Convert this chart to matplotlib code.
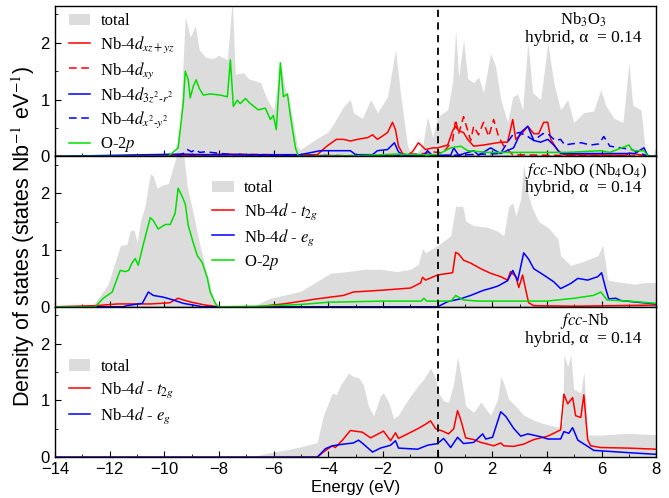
import numpy as np
import matplotlib
matplotlib.use('Agg')
import matplotlib.pyplot as plt
from matplotlib.ticker import MultipleLocator

plt.rcParams['font.family'] = ['Liberation Sans', 'DejaVu Sans']
plt.rcParams['mathtext.fontset'] = 'stix'
plt.rcParams['font.size'] = 12

# ---- Nb3O3 (top panel) ----
top_tot_e = [-14, -9.89, -9.6, -9.41, -9.23, -9.05, -8.86, -8.72, -8.5, -8.24, -8.0, -7.69, -7.51, -7.4,
             -7.1, -6.92, -6.48, -6.23, -6.0, -5.75, -5.57, -5.31, -5.13, -5.02, -4.65, -4.29, -4.03,
             -3.81, -3.44, -3.19, -3.08, -2.75, -2.45, -2.2, -1.83, -1.54, -1.36, -1.1, -0.88, -0.55,
             -0.37, -0.18, 0, 0.37, 0.55, 0.66, 0.77, 0.95, 1.1, 1.32, 1.5, 1.68, 1.94, 2.12, 2.31, 2.56,
             2.75, 2.93, 3.11, 3.3, 3.48, 3.77, 4.03, 4.25, 4.5, 4.76, 4.98, 5.35, 5.71, 5.97, 6.15,
             6.45, 6.78, 7.0, 7.14, 7.44, 7.62, 7.88, 8.0]
top_tot_v = [0, 0, 0.05, 0.6, 2.46, 2.1, 2.3, 1.88, 1.75, 1.72, 1.78, 1.7, 2.75, 1.45,
             1.47, 1.37, 1.3, 1.0, 0.82, 1.65, 1.2, 0.7, 0.18, 0.12, 0.24, 0.35, 0.42,
             0.57, 0.88, 1.0, 0.77, 0.67, 1.0, 0.77, 1.05, 1.88, 1.12, 0.18, 0.0, 0.18,
             0.7, 0.33, 0.7, 0.82, 1.3, 2.23, 1.4, 2.05, 1.37, 1.3, 1.4, 1.12, 1.82, 1.58, 1.0, 0.6,
             1.05, 1.1, 0.82, 2.0, 1.12, 1.0, 2.0, 1.3, 0.82, 1.0, 0.6, 0.77, 0.8, 1.17, 0.9,
             0.67, 0.6, 1.65, 0.9, 0.82, 0.03, 0.0, 0.2]

top_o2p_e = [-14, -9.85, -9.49, -9.3, -9.23, -9.12, -9.05, -8.94, -8.83, -8.72, -8.57, -8.32, -7.95,
             -7.69, -7.58, -7.47, -7.33, -7.22, -7.03, -6.85, -6.56, -6.3, -6.12, -6.01, -5.9, -5.75,
             -5.64, -5.49, -5.38, -5.2, -5.09, -3.0, -1.5, -0.5, 0, 0.48, 0.85, 1.1, 1.83, 3.5, 4.76,
             5.97, 6.3, 7.0, 7.14, 7.55, 7.7, 8.0]
top_o2p_v = [0, 0, 0.15, 0.95, 1.5, 1.35, 1.03, 1.23, 1.35, 1.2, 1.08, 1.1, 1.08,
             1.05, 1.7, 0.88, 0.99, 0.93, 1.02, 0.93, 0.82, 0.85, 0.65, 0.72, 0.47, 1.65,
             1.05, 1.1, 0.7, 0.15, 0, 0.01, 0.04, 0.03, 0.03, 0.15, 0.18, 0.1, 0.07, 0.07, 0.07,
             0.1, 0.07, 0.2, 0.1, 0.1, 0.0, 0.0]

top_xzyz_e = [-14, -9.5, -8.0, -6.0, -4.4, -4.05, -3.7, -3.44, -3.19, -2.93, -2.56, -2.38, -2.2,
              -2.01, -1.83, -1.65, -1.54, -1.43, -1.28, -1.1, -0.92, -0.7, -0.44, -0.18, 0, 0.37,
              0.55, 0.66, 0.77, 0.95, 1.1, 1.32, 1.68, 2.31, 2.56, 2.75, 2.86, 3.04, 3.3, 3.52,
              3.7, 3.88, 4.03, 4.14, 4.4, 4.62, 6.9, 7.0, 7.5, 8.0]
top_xzyz_v = [0, 0.02, 0.03, 0.02, 0.03, 0.18, 0.3, 0.3, 0.27, 0.3, 0.33, 0.38, 0.3,
              0.36, 0.42, 0.6, 0.47, 0.18, 0.05, 0.02, 0.08, 0.24, 0.12, 0.15, 0.15, 0.2,
              0.45, 0.53, 0.45, 0.42, 0.3, 0.18, 0.2, 0.25, 0.25, 0.65, 0.3, 0.38, 0.53, 0.4,
              0.4, 0.6, 0.6, 0.3, 0.1, 0.03, 0.02, 0.06, 0.02, 0.0]

top_xy_e = [-14, -9.5, -7.5, -5.0, -2.0, -0.5, -0.2, 0.2, 0.55, 0.66, 0.77, 0.95, 1.21, 1.32, 1.5,
            1.68, 1.87, 2.05, 2.23, 2.42, 2.75, 4.0, 8.0]
top_xy_v = [0, 0.02, 0.04, 0.02, 0.01, 0.05, 0.08, 0.06, 0.28, 0.65, 0.4, 0.7, 0.28, 0.53, 0.38,
            0.6, 0.35, 0.65, 0.35, 0.18, 0.03, 0.02, 0.0]

top_3z2_e = [-14, -9.4, -8.5, -7.0, -5.02, -4.29, -3.19, -3.0, -2.38, -2.2, -1.83, -1.58, -1.43,
             -1.25, -0.5, -0.37, -0.2, 0.48, 0.59, 0.77, 1.32, 1.5, 1.94, 2.3, 2.78, 3.04, 3.3,
             3.52, 3.77, 4.03, 4.25, 4.5, 6.0, 7.2, 7.55, 7.7, 8.0]
top_3z2_v = [0, 0.04, 0.03, 0.03, 0.03, 0.1, 0.1, 0.03, 0.03, 0.1, 0.12, 0.24, 0.08,
             0.02, 0.02, 0.1, 0.02, 0.02, 0.15, 0.02, 0.1, 0.02, 0.15, 0.05, 0.15, 0.42, 0.53,
             0.28, 0.25, 0.3, 0.2, 0.05, 0.05, 0.05, 0.15, 0.0, 0.0]

top_x2y2_e = [-14, -9.6, -9.3, -9.15, -9.0, -8.86, -8.7, -8.5, -7.7, -6.0, -3.0, 0.0, 2.3, 2.56,
              2.78, 3.0, 3.3, 3.52, 3.85, 4.03, 4.3, 4.5, 4.65, 4.9, 5.25, 5.6, 5.9, 6.08, 6.3,
              6.7, 7.1, 7.6, 8.0]
top_x2y2_v = [0, 0.0, 0.05, 0.12, 0.08, 0.12, 0.07, 0.08, 0.04, 0.02, 0.01, 0.01, 0.05, 0.25,
              0.4, 0.42, 0.35, 0.28, 0.4, 0.4, 0.28, 0.3, 0.2, 0.22, 0.24, 0.2, 0.22, 0.35, 0.18,
              0.15, 0.12, 0.02, 0.0]

# ---- fcc-NbO (middle panel) ----
mid_tot_e = [-14, -12.6, -12.34, -12.05, -11.8, -11.6, -11.36, -11.25, -11.1, -10.99, -10.88, -10.7,
             -10.51, -10.4, -10.26, -10.04, -9.85, -9.67, -9.49, -9.3, -9.16, -8.94, -8.75, -8.57,
             -8.39, -8.2, -8.02, -6.8, -6.12, -5.02, -3.92, -3.3, -2.71, -2.09, -1.47, -0.99, -0.7,
             -0.55, -0.44, 0, 0.48, 0.66, 0.92, 1.03, 1.32, 1.83, 2.2, 2.42, 2.6, 2.75, 2.86, 3.04,
             3.15, 3.3, 3.48, 3.7, 4.03, 4.4, 4.5, 4.87, 5.35, 5.86, 6.04, 6.23, 6.7, 7.18, 7.69, 8.0]
mid_tot_v = [0, 0.03, 0.2, 0.4, 0.78, 1.08, 1.1, 1.34, 1.35, 1.13, 1.48, 1.78,
             2.35, 2.3, 2.09, 2.15, 2.17, 2.47, 2.75, 2.75, 2.12, 1.65, 1.2, 0.85,
             0.5, 0.15, 0, 0.0, 0.15, 0.27, 0.59, 0.62, 0.66, 0.66, 0.62, 0.66, 0.75,
             1.03, 0.95, 1.08, 1.25, 1.77, 1.77, 1.51, 1.43, 1.4, 1.33, 1.25, 1.77, 1.83, 1.6, 1.9,
             2.52, 2.0, 1.72, 1.5, 1.4, 1.2, 0.9, 0.73, 0.8, 0.9, 1.08, 0.47, 0.43, 0.4, 0.43, 0.43]

mid_o2p_e = [-14, -12.53, -12.23, -11.9, -11.72, -11.61, -11.43, -11.3, -11.18, -11.06, -10.95, -10.8,
             -10.62, -10.51, -10.4, -10.22, -9.96, -9.78, -9.6, -9.49, -9.34, -9.23, -9.12, -8.94,
             -8.79, -8.61, -8.42, -8.32, -8.13, -8.02, -6.5, -5.0, -4.0, -2.0, -0.6, -0.5, -0.4, 0.5,
             0.66, 0.95, 1.5, 4.0, 5.0, 5.7, 5.97, 6.2, 7.0, 8.0]
mid_o2p_v = [0, 0, 0.15, 0.26, 0.5, 0.64, 0.62, 0.64, 0.77, 0.85, 0.73, 1.03,
             1.37, 1.57, 1.52, 1.37, 1.45, 1.45, 1.65, 2.09, 1.94, 1.81, 1.43, 1.13,
             0.9, 0.78, 0.5, 0.26, 0.06, 0, 0.01, 0.04, 0.08, 0.1, 0.1, 0.15, 0.1, 0.1,
             0.2, 0.12, 0.1, 0.1, 0.15, 0.2, 0.26, 0.12, 0.1, 0.06]

mid_t2g_e = [-14, -12.5, -11.7, -10.5, -9.8, -9.49, -9.3, -9.0, -8.5, -8.0, -6.6, -5.64, -4.4, -3.44,
             -3.08, -2.09, -0.99, -0.62, -0.55, -0.44, 0, 0.55, 0.66, 0.77, 0.95, 1.21, 1.58, 1.94,
             2.31, 2.56, 2.67, 2.86, 2.97, 3.11, 3.22, 3.33, 3.52, 5.0, 8.0]
mid_t2g_v = [0, 0.02, 0.05, 0.05, 0.07, 0.15, 0.12, 0.08, 0.03, 0, 0, 0.05, 0.14, 0.2,
             0.26, 0.29, 0.33, 0.42, 0.52, 0.47, 0.56, 0.6, 0.96, 0.93, 0.82, 0.77, 0.67, 0.59,
             0.53, 0.47, 0.62, 0.53, 0.34, 0.56, 0.31, 0.07, 0.02, 0.01, 0.03]

mid_eg_e = [-14, -11.5, -11.36, -10.95, -10.8, -10.58, -10.4, -10.04, -9.67, -9.3, -8.94, -8.6, 0,
            0.37, 0.84, 1.21, 1.68, 2.05, 2.23, 2.56, 2.75, 2.93, 3.15, 3.33, 3.52, 3.88, 4.25,
            4.5, 4.87, 5.13, 5.49, 5.86, 6.0, 6.15, 6.26, 6.52, 6.7, 7.3, 8.0]
mid_eg_v = [0, 0, 0.02, 0.05, 0.06, 0.26, 0.2, 0.17, 0.12, 0.06, 0.03, 0, 0,
            0.09, 0.14, 0.2, 0.29, 0.34, 0.37, 0.46, 0.64, 0.46, 0.95, 0.84, 0.67, 0.56, 0.44,
            0.32, 0.41, 0.5, 0.47, 0.53, 0.6, 0.32, 0.14, 0.15, 0.11, 0.08, 0.05]

# ---- fcc-Nb (bottom panel) ----
bot_tot_e = [-14, -6.85, -6.23, -5.64, -5.02, -4.4, -4.18, -3.85, -3.7, -3.55, -3.26, -3.08, -2.89,
             -2.71, -2.53, -2.34, -2.09, -1.98, -1.79, -1.61, -1.43, -1.3, -0.99, -0.73, -0.51, -0.26,
             -0.07, 0.04, 0.22, 0.4, 0.59, 0.73, 0.84, 1.03, 1.32, 1.58, 1.76, 1.94, 2.2, 2.31, 2.42,
             2.6, 2.86, 3.15, 3.52, 3.88, 4.4, 4.58, 4.62, 4.76, 4.87, 4.98, 5.24, 5.35, 5.49, 5.97,
             6.96, 7.9, 8.0]
bot_tot_v = [0, 0, 0.07, 0.12, 0.18, 0.26, 0.73, 1.13, 1.1, 1.27, 1.48, 1.42, 1.4,
             1.27, 0.9, 0.73, 1.08, 1.13, 0.97, 0.68, 0.74, 0.85, 1.08, 1.25, 1.37, 1.57,
             1.4, 1.13, 0.99, 0.97, 1.3, 1.77, 1.48, 0.9, 0.79, 0.97, 0.85, 0.74, 1.02, 1.42, 1.3,
             1.02, 0.9, 0.74, 0.65, 0.59, 0.53, 0.62, 1.8, 1.6, 1.8, 1.2, 1.13, 1.51, 0.39, 0.39,
             0.42, 0.4, 0.4]

bot_t2g_e = [-14, -4.4, -4.18, -3.85, -3.74, -3.48, -3.19, -2.75, -2.45, -2.09, -1.98, -1.72, -1.54,
             -1.43, -1.1, -0.73, -0.44, -0.26, -0.07, 0.18, 0.4, 0.59, 0.73, 0.84, 1.03, 1.32, 1.58,
             1.83, 2.05, 2.31, 2.42, 2.78, 3.15, 3.52, 4.03, 4.5, 4.62, 4.76, 4.94, 5.05, 5.24, 5.35,
             5.49, 5.6, 5.97, 6.96, 8.0]
bot_t2g_v = [0, 0, 0.09, 0.2, 0.17, 0.3, 0.47, 0.44, 0.34, 0.43, 0.46, 0.29, 0.43,
             0.33, 0.41, 0.5, 0.58, 0.64, 0.5, 0.46, 0.41, 0.5, 0.82, 0.67, 0.34, 0.31, 0.26,
             0.23, 0.2, 0.25, 0.2, 0.19, 0.23, 0.31, 0.37, 0.48, 1.11, 0.94, 1.05, 0.73, 0.7, 1.1,
             0.31, 0.2, 0.17, 0.16, 0.14]

bot_eg_e = [-14, -4.4, -4.1, -3.85, -3.44, -3.08, -2.89, -2.71, -2.38, -2.09, -1.72, -1.54, -1.43,
            -0.73, -0.37, 0, 0.22, 0.48, 0.73, 0.95, 1.32, 1.65, 1.76, 2.01, 2.31, 2.49, 2.78, 3.04,
            3.3, 3.77, 4.03, 4.5, 4.62, 4.8, 4.94, 5.13, 5.49, 5.71, 6.96, 8.0]
bot_eg_v = [0, 0, 0.15, 0.2, 0.23, 0.25, 0.3, 0.23, 0.09, 0.16, 0.21, 0.29, 0.16,
            0.14, 0.21, 0.24, 0.33, 0.17, 0.35, 0.24, 0.26, 0.41, 0.32, 0.35, 0.8, 0.72, 0.51, 0.37,
            0.41, 0.36, 0.32, 0.32, 0.45, 0.42, 0.52, 0.3, 0.19, 0.12, 0.08, 0.05]

xticks = [-14, -12, -10, -8, -6, -4, -2, 0, 2, 4, 6, 8]
panel_titles = ['Nb$_3$O$_3$', '$fcc$-NbO (Nb$_4$O$_4$)', '$fcc$-Nb']
alpha_text = 'hybrid, \u03b1  = 0.14'

gray = '#dcdcdc'
serif = ['Liberation Serif', 'DejaVu Serif']
leg_kw = dict(frameon=False, prop={'family': serif, 'size': 12}, handlelength=1.3,
              handletextpad=0.6, borderaxespad=0.0, borderpad=0.4)

fig = plt.figure(figsize=(6.69, 4.98), dpi=100)
gs = fig.add_gridspec(3, 1, left=0.082, right=0.981, top=0.988, bottom=0.082, hspace=0)
axs = [fig.add_subplot(gs[i, 0]) for i in range(3)]

# top
ax = axs[0]
ax.fill_between(top_tot_e, top_tot_v, color=gray, lw=0, label='total')
ax.plot(top_xzyz_e, top_xzyz_v, color='red', lw=1.1, label=r'Nb-4$d_{xz+yz}$')
ax.plot(top_xy_e, top_xy_v, color='red', lw=1.1, ls=(0, (5, 3)), label=r'Nb-4$d_{xy}$')
ax.plot(top_3z2_e, top_3z2_v, color='blue', lw=1.1, label=r'Nb-4$d_{3z^2\text{-}r^2}$')
ax.plot(top_x2y2_e, top_x2y2_v, color='blue', lw=1.1, ls=(0, (5, 3)), label=r'Nb-4$d_{x^2\text{-}y^2}$')
ax.plot(top_o2p_e, top_o2p_v, color='#00e000', lw=1.1, label=r'O-2$p$')
ax.legend(loc='upper left', bbox_to_anchor=(0.012, 0.995), labelspacing=0.3, **leg_kw)

# middle
ax = axs[1]
ax.fill_between(mid_tot_e, mid_tot_v, color=gray, lw=0, label='total')
ax.plot(mid_t2g_e, mid_t2g_v, color='red', lw=1.1, label=r'Nb-4$d$ - $t_{2g}$')
ax.plot(mid_eg_e, mid_eg_v, color='blue', lw=1.1, label=r'Nb-4$d$ - $e_g$')
ax.plot(mid_o2p_e, mid_o2p_v, color='#00e000', lw=1.1, label=r'O-2$p$')
ax.legend(loc='upper left', bbox_to_anchor=(0.25, 0.885), labelspacing=0.3, **leg_kw)

# bottom
ax = axs[2]
ax.fill_between(bot_tot_e, bot_tot_v, color=gray, lw=0, label='total')
ax.plot(bot_t2g_e, bot_t2g_v, color='red', lw=1.1, label=r'Nb-4$d$ - $t_{2g}$')
ax.plot(bot_eg_e, bot_eg_v, color='blue', lw=1.1, label=r'Nb-4$d$ - $e_g$')
ax.legend(loc='upper left', bbox_to_anchor=(0.012, 0.7), labelspacing=0.3, **leg_kw)

title_x = [0.878, 0.985, 0.88]
for i, ax in enumerate(axs):
    ax.axvline(0, color='black', ls=(0, (4, 3)), lw=1.3)
    ax.set_xlim(-14, 8)
    ax.set_ylim(0, 2.65)
    ax.set_xticks(xticks)
    ax.xaxis.set_minor_locator(MultipleLocator(1))
    ax.yaxis.set_major_locator(MultipleLocator(1))
    ax.yaxis.set_minor_locator(MultipleLocator(0.5))
    ax.tick_params(which='both', direction='in', top=False, right=False, labelsize=12)
    ax.tick_params(which='major', length=4)
    ax.tick_params(which='minor', length=2.5)
    ha = 'right' if i == 1 else 'center'
    ax.text(title_x[i], 0.97, panel_titles[i], transform=ax.transAxes, ha=ha, va='top',
            family=serif, fontsize=12)
    ax.text(0.975, 0.84, alpha_text, transform=ax.transAxes, ha='right', va='top',
            family=serif, fontsize=12.5)
    if i < 2:
        ax.tick_params(labelbottom=False)
    for s in ax.spines.values():
        s.set_linewidth(1.0)

axs[2].set_xlabel('Energy (eV)', fontsize=12, labelpad=2)
fig.text(0.035, 0.526, 'Density of states (states Nb$^{-1}$ eV$^{-1}$)', rotation=90,
         ha='center', va='center', fontsize=15.5)

plt.savefig('out.png', dpi=100)
